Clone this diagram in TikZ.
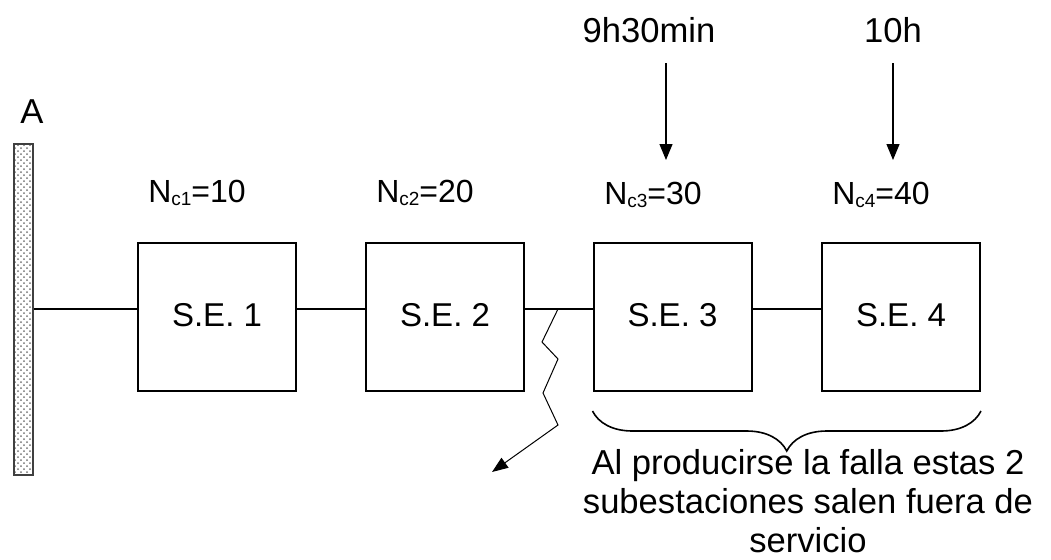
\documentclass[tikz,border=0pt]{standalone}
\usepackage{fontspec}
\setmainfont{Liberation Sans}
\usepackage{tikz}
\usetikzlibrary{arrows.meta,patterns,decorations.pathreplacing}
\newcommand{\subc}[1]{\raisebox{-1.5pt}{\fontsize{9.5}{9.5}\selectfont #1}}

\begin{document}
\begin{tikzpicture}[x=0.5pt,y=-0.5pt,
          font=\fontsize{17.3}{19.5}\selectfont,
          se/.style={draw,line width=1pt,minimum width=79pt,
                     minimum height=74pt,font=\fontsize{16.5}{19}\selectfont,
                     text height=12pt,text depth=3pt},
          nc/.style={font=\fontsize{16}{19}\selectfont},
          barra/.style={draw=black!75,line width=0.8pt,pattern=crosshatch dots,
                        pattern color=black!55,minimum width=9.5pt,
                        minimum height=165.5pt,inner sep=0pt},
          lin/.style={line width=0.8pt},
          flecha/.style={-{Triangle[length=8pt,width=6.5pt]},line width=0.6pt},
          rayo/.style={-{Triangle[length=8pt,width=6pt]},line width=0.5pt},
          llave/.style={decorate,decoration={brace,mirror,amplitude=20pt},
                        line width=0.8pt}
        ]
        \useasboundingbox (0,0) rectangle (1051,559);
        \node[barra] (bar) at (23.5,309.5) {};
        \node (A)   at (32,112)  {A};
        \node[se] (se1) at (217,317) {S.E. 1};
        \node[se] (se2) at (445,317) {S.E. 2};
        \node[se] (se3) at (672.5,317) {S.E. 3};
        \node[se] (se4) at (901,317) {S.E. 4};
        \node[nc] (nc1) at (197,193) {N\subc{c1}=10};
        \node[nc] (nc2) at (425,193) {N\subc{c2}=20};
        \node[nc] (nc3) at (653,195) {N\subc{c3}=30};
        \node[nc] (nc4) at (881,195) {N\subc{c4}=40};
        \node (t3)  at (649,30)  {9h30min};
        \node (t4)  at (893,30)  {10h};
        \draw[lin] ([yshift=4pt]se1.west) -- ([yshift=4pt]se1.west -| bar.east);
        \draw[lin] ([yshift=4pt]se1.east) -- ([yshift=4pt]se2.west);
        \draw[lin] ([yshift=4pt]se2.east) -- ([yshift=4pt]se3.west);
        \draw[lin] ([yshift=4pt]se3.east) -- ([yshift=4pt]se4.west);
        % falla
        \coordinate (falla) at (558,309);
        \draw[rayo] (falla) -- (542,342) -- (558,359) -- (543,393)
                    -- (558,425) -- (492,472);
        % horas
        \coordinate (h3) at (666,63);
        \coordinate (h4) at (893,63);
        \draw[flecha] (h3) -- ++(0,97);
        \draw[flecha] (h4) -- ++(0,97);
        \draw[llave] ([yshift=-9.5pt]se3.south west) -- ([yshift=-9.5pt]se4.south east);
        \node[align=center] (nota) at (808,501)
             {Al producirse la falla estas 2\\subestaciones salen fuera de\\servicio};
      \end{tikzpicture}
\end{document}
